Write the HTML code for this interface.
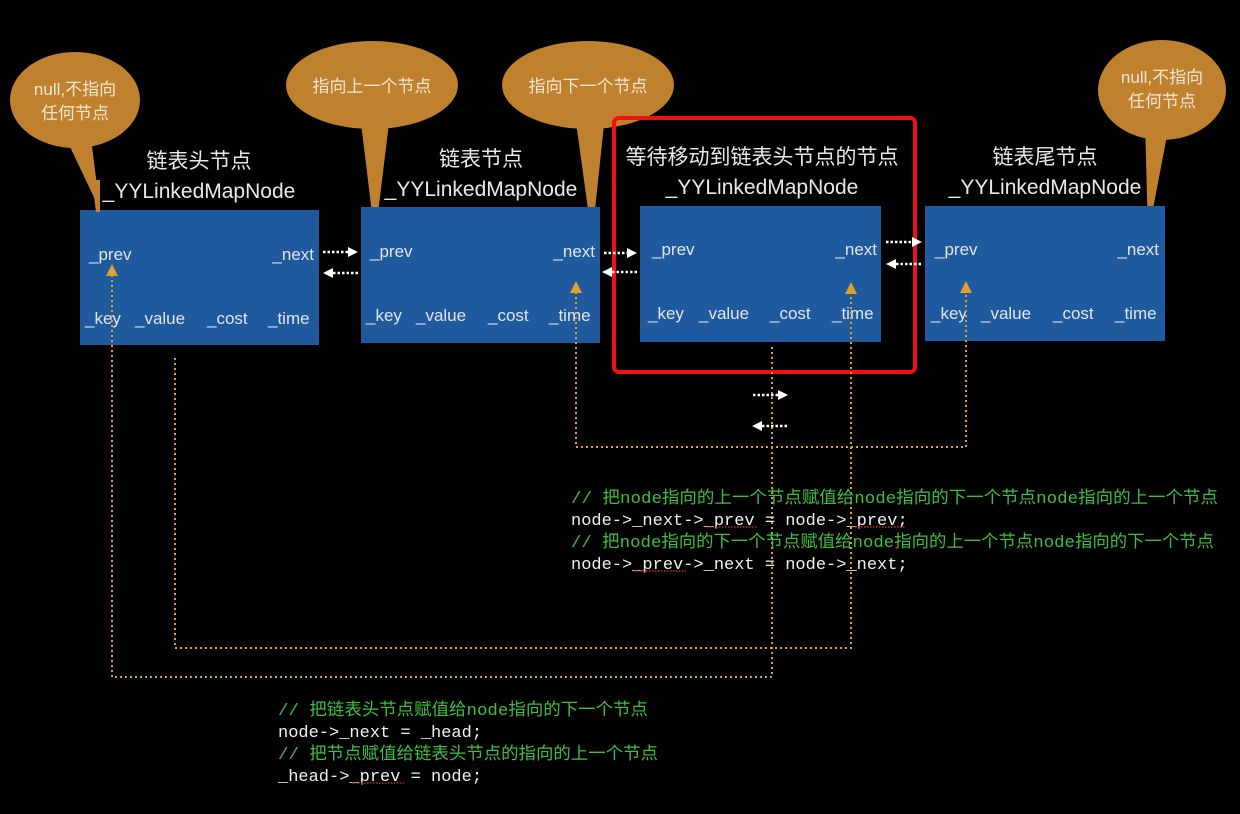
<!DOCTYPE html>
<html><head><meta charset="utf-8"><style>
html,body{margin:0;padding:0;background:#000;}
svg{display:block}
.t{font-family:"Liberation Sans","Noto Sans CJK SC",sans-serif;fill:#e8e8e8}
.f{font-family:"Liberation Sans",sans-serif;fill:#dfe6ef;font-size:17px}
.m{font-family:"Liberation Mono","Noto Sans CJK SC",monospace;font-size:17px}
.o{stroke:#e0a030;stroke-width:2;stroke-dasharray:2 3;fill:none}
.w{stroke:#fff;stroke-width:2.5;stroke-dasharray:2.5 2;fill:none}
</style></head><body>
<svg width="1240" height="814" viewBox="0 0 1240 814" xmlns="http://www.w3.org/2000/svg">
<rect width="1240" height="814" fill="#000"/>
<!-- bubbles -->
<g fill="#c0812f">
<ellipse cx="75" cy="100" rx="65" ry="48"/><polygon points="62,130 90,130 100,210"/>
<ellipse cx="372" cy="85" rx="86" ry="44"/><polygon points="360,115 390,115 375,238"/>
<ellipse cx="588" cy="85" rx="86" ry="44"/><polygon points="575,115 605,115 592,238"/>
<ellipse cx="1162" cy="90" rx="64" ry="50"/><polygon points="1145,120 1170,120 1148,235"/>
</g>
<g class="t" font-size="17" text-anchor="middle" fill="#f4e6d4">
<text x="75" y="95" style="fill:#f4e6d4">null,不指向</text>
<text x="75" y="119" style="fill:#f4e6d4">任何节点</text>
<text x="372" y="92" style="fill:#f4e6d4">指向上一个节点</text>
<text x="588" y="92" style="fill:#f4e6d4">指向下一个节点</text>
<text x="1162" y="83" style="fill:#f4e6d4">null,不指向</text>
<text x="1162" y="107" style="fill:#f4e6d4">任何节点</text>
</g>
<!-- titles -->
<g class="t" font-size="21" text-anchor="middle">
<text x="199" y="168">链表头节点</text><text x="199" y="198">_YYLinkedMapNode</text>
<text x="481" y="166">链表节点</text><text x="481" y="196">_YYLinkedMapNode</text>
<text x="762" y="164">等待移动到链表头节点的节点</text><text x="762" y="194">_YYLinkedMapNode</text>
<text x="1045" y="164">链表尾节点</text><text x="1045" y="194">_YYLinkedMapNode</text>
</g>
<!-- boxes -->
<g fill="#1f5a9e">
<rect x="80" y="210" width="239" height="135"/>
<rect x="361" y="207" width="239" height="136"/>
<rect x="640" y="206" width="241" height="136"/>
<rect x="925" y="206" width="240" height="135"/>
</g>
<!-- bubble tails over boxes -->
<g fill="#c0812f">
<polygon points="92,180 100,180 100,212 96,212"/>
</g>
<rect x="614" y="118" width="301" height="254" rx="5" fill="none" stroke="#f01010" stroke-width="4"/>
<!-- fields -->
<g class="f">
<text x="89" y="260">_prev</text><text x="314" y="260" text-anchor="end">_next</text>
<text x="85" y="324">_key</text><text x="135" y="324">_value</text><text x="207" y="324">_cost</text><text x="268" y="324">_time</text>
<text x="370" y="257">_prev</text><text x="595" y="257" text-anchor="end">_next</text>
<text x="366" y="321">_key</text><text x="416" y="321">_value</text><text x="488" y="321">_cost</text><text x="549" y="321">_time</text>
<text x="652" y="255">_prev</text><text x="877" y="255" text-anchor="end">_next</text>
<text x="648" y="319">_key</text><text x="699" y="319">_value</text><text x="770" y="319">_cost</text><text x="832" y="319">_time</text>
<text x="935" y="255">_prev</text><text x="1159" y="255" text-anchor="end">_next</text>
<text x="931" y="319">_key</text><text x="981" y="319">_value</text><text x="1053" y="319">_cost</text><text x="1115" y="319">_time</text>
</g>
<!-- white arrows -->
<g>
<path class="w" d="M323 252H348"/><polygon points="348,247 358,252 348,257" fill="#fff"/>
<path class="w" d="M333 273H358"/><polygon points="333,268 323,273 333,278" fill="#fff"/>
<path class="w" d="M604 253H627"/><polygon points="627,248 637,253 627,258" fill="#fff"/>
<path class="w" d="M612 272H637"/><polygon points="612,267 602,272 612,277" fill="#fff"/>
<path class="w" d="M886 242H912"/><polygon points="912,237 922,242 912,247" fill="#fff"/>
<path class="w" d="M896 264H922"/><polygon points="896,259 886,264 896,269" fill="#fff"/>
<path class="w" d="M753 395H778"/><polygon points="778,390 788,395 778,400" fill="#fff"/>
<path class="w" d="M762 426H788"/><polygon points="762,421 752,426 762,431" fill="#fff"/>
</g>
<!-- orange dotted -->
<path class="o" d="M112 275V677H772V345"/>
<polygon points="106,276 112,264 118,276" fill="#e0a030"/>
<path class="o" d="M175 358V648H851V295"/>
<polygon points="845,294 851,282 857,294" fill="#e0a030"/>
<path class="o" d="M576 292V447H966V292"/>
<polygon points="570,293 576,281 582,293" fill="#e0a030"/>
<polygon points="960,293 966,281 972,293" fill="#e0a030"/>
<!-- code -->
<g class="m">
<text x="571" y="503" fill="#3fbf3f" textLength="647" lengthAdjust="spacingAndGlyphs">// 把node指向的上一个节点赋值给node指向的下一个节点node指向的上一个节点</text>
<text x="571" y="525" fill="#f0f0f0">node-&gt;_next-&gt;_prev = node-&gt;_prev;</text>
<text x="571" y="547" fill="#3fbf3f" textLength="643" lengthAdjust="spacingAndGlyphs">// 把node指向的下一个节点赋值给node指向的上一个节点node指向的下一个节点</text>
<text x="571" y="569" fill="#f0f0f0">node-&gt;_prev-&gt;_next = node-&gt;_next;</text>
<text x="278" y="715" fill="#3fbf3f" textLength="370" lengthAdjust="spacingAndGlyphs">// 把链表头节点赋值给node指向的下一个节点</text>
<text x="278" y="737" fill="#f0f0f0">node-&gt;_next = _head;</text>
<text x="278" y="759" fill="#3fbf3f" textLength="380" lengthAdjust="spacingAndGlyphs">// 把节点赋值给链表头节点的指向的上一个节点</text>
<text x="278" y="781" fill="#f0f0f0">_head-&gt;_prev = node;</text>
</g>
<g stroke="#d02020" stroke-width="1.5" stroke-dasharray="1.5 1.5">
<path d="M707 527H758"/><path d="M852 527H905"/><path d="M634 571H686"/><path d="M352 783H404"/>
</g>
</svg>
</body></html>
